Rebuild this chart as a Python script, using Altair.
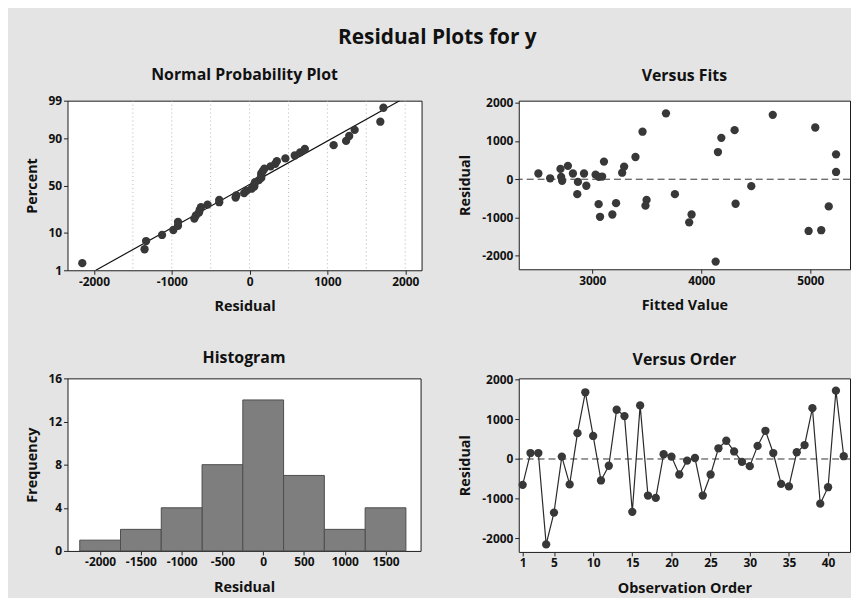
import altair as alt
import pandas as pd
import statistics

FONT = "Open Sans"

# ---- data ----
order = list(range(1, 43))
residual = [-650, 150, 150, -2150, -1350, 60, -640, 650, 1680, 580,
            -540, -170, 1240, 1080, -1330, 1350, -920, -980, 120, 60,
            -390, -40, 25, -920, -390, 270, 460, 190, -70, -180,
            330, 710, 150, -625, -690, 170, 350, 1280, -1125, -710,
            1720, 70]
fitted = [3058, 2505, 2924, 4132, 4985, 2714, 4315, 5237, 4656, 3396,
          3498, 2945, 3461, 4184, 5101, 5046, 3184, 3071, 3030, 3060,
          2862, 2723, 2613, 3911, 3758, 2708, 3107, 5237, 2868, 4459,
          3292, 4153, 2822, 3218, 3488, 3274, 2776, 4306, 3889, 5170,
          3676, 3090]
pct_ticks = [1, 10, 50, 90, 99]
npp_grid_x = [-1500, -1000, -500, 0, 500, 1000, 1500, 2000]
hist_ticks = [-2000, -1500, -1000, -500, 0, 500, 1000, 1500]
order_ticks = [1, 5, 10, 15, 20, 25, 30, 35, 40]

nd = statistics.NormalDist()
n = len(residual)
srt = sorted(residual)
zs = [nd.inv_cdf((i - 0.3) / (n + 0.4)) for i in range(1, n + 1)]
zlo, zhi = nd.inv_cdf(0.01), nd.inv_cdf(0.99)
mu = statistics.mean(residual)
sd = statistics.stdev(residual)

df = pd.DataFrame({"order": order, "res": residual, "fit": fitted})
npp_df = pd.DataFrame({"res": srt, "z": zs})
line_df = pd.DataFrame({"res": [mu + zlo * sd, mu + zhi * sd], "z": [zlo, zhi]})
grid_df = pd.DataFrame({"gx": npp_grid_x})
zero_df = pd.DataFrame({"y0": [0]})
zt = [nd.inv_cdf(p / 100) for p in pct_ticks]

PT = "#383838"
PT_SIZE = 70
W1, W2 = 357, 334
H1, H2 = 171, 175

def stitle(t, off):
    return alt.TitleParams(t, fontSize=16, font=FONT, fontWeight="bold",
                           color="#111", offset=off, anchor="middle")

# ---- Normal probability plot ----
xs1 = alt.Scale(domain=[-2340, 2210], nice=False, zero=False)
ys1 = alt.Scale(domain=[zlo, zhi], nice=False, zero=False)
xa1 = alt.Axis(title="Residual", values=[-2000, -1000, 0, 1000, 2000],
               labelExpr="'' + datum.value")
lab_expr = "datum.value < -2 ? '1' : datum.value < -1 ? '10' : datum.value < 1 ? '50' : datum.value < 2 ? '90' : '99'"
ya1 = alt.Axis(title="Percent", values=zt, labelExpr=lab_expr)

g1 = alt.Chart(grid_df).mark_rule(color="#b5b5b5", strokeDash=[1, 3], strokeWidth=1).encode(
    x=alt.X("gx:Q", scale=xs1, axis=xa1))
l1 = alt.Chart(line_df).mark_line(color="#111", strokeWidth=1.2, clip=True).encode(
    x=alt.X("res:Q", scale=xs1, axis=xa1), y=alt.Y("z:Q", scale=ys1, axis=ya1))
p1 = alt.Chart(npp_df).mark_circle(color=PT, size=PT_SIZE, opacity=1).encode(
    x=alt.X("res:Q", scale=xs1, axis=xa1), y=alt.Y("z:Q", scale=ys1, axis=ya1))
npp = alt.layer(g1, l1, p1).properties(width=W1, height=H1,
                                       title=stitle("Normal Probability Plot", 12))

# ---- Versus fits ----
xs2 = alt.Scale(domain=[2325, 5365], nice=False, zero=False)
ys2 = alt.Scale(domain=[-2350, 2050], nice=False, zero=False)
xa2 = alt.Axis(title="Fitted Value", values=[3000, 4000, 5000], labelExpr="'' + datum.value")
ya2 = alt.Axis(title="Residual", values=[-2000, -1000, 0, 1000, 2000], labelExpr="'' + datum.value")
z2 = alt.Chart(zero_df).mark_rule(color="#333", strokeDash=[7, 4], strokeWidth=1).encode(
    y=alt.Y("y0:Q", scale=ys2, axis=ya2))
p2 = alt.Chart(df).mark_circle(color=PT, size=PT_SIZE, opacity=1).encode(
    x=alt.X("fit:Q", scale=xs2, axis=xa2), y=alt.Y("res:Q", scale=ys2, axis=ya2))
vfits = alt.layer(z2, p2).properties(width=W2, height=H1 - 1,
                                     title=stitle("Versus Fits", 13))

# ---- Histogram ----
xs3 = alt.Scale(domain=[-2400, 1930], nice=False, zero=False)
ys3 = alt.Scale(domain=[0, 16], nice=False)
xa3 = alt.Axis(title="Residual", values=hist_ticks, labelExpr="'' + datum.value")
ya3 = alt.Axis(title="Frequency", values=[0, 4, 8, 12, 16])
hist = alt.Chart(df).transform_bin(
    ["b0", "b1"], "res", bin=alt.Bin(extent=[-2250, 1750], step=500, nice=False)
).transform_aggregate(cnt="count()", groupby=["b0", "b1"]).mark_bar(
    fill="#7e7e7e", stroke="#4d4d4d", strokeWidth=1
).encode(
    x=alt.X("b0:Q", scale=xs3, axis=xa3), x2="b1:Q",
    y=alt.Y("cnt:Q", scale=ys3, axis=ya3), y2=alt.datum(0)
).properties(width=W1 - 1, height=H2 - 1, title=stitle("Histogram", 6))

# ---- Versus order ----
xs4 = alt.Scale(domain=[0.5, 42.8], nice=False, zero=False)
ys4 = alt.Scale(domain=[-2340, 2030], nice=False, zero=False)
xa4 = alt.Axis(title="Observation Order", values=order_ticks)
ya4 = alt.Axis(title="Residual", values=[-2000, -1000, 0, 1000, 2000], labelExpr="'' + datum.value")
z4 = alt.Chart(zero_df).mark_rule(color="#333", strokeDash=[7, 4], strokeWidth=1).encode(
    y=alt.Y("y0:Q", scale=ys4, axis=ya4))
ln4 = alt.Chart(df).mark_line(color="#2a2a2a", strokeWidth=1.2).encode(
    x=alt.X("order:Q", scale=xs4, axis=xa4), y=alt.Y("res:Q", scale=ys4, axis=ya4))
p4 = alt.Chart(df).mark_circle(color=PT, size=PT_SIZE, opacity=1).encode(
    x=alt.X("order:Q", scale=xs4, axis=xa4), y=alt.Y("res:Q", scale=ys4, axis=ya4))
vorder = alt.layer(z4, ln4, p4).properties(width=W2, height=H2,
                                           title=stitle("Versus Order", 6))

row1 = alt.hconcat(npp, vfits, spacing=35)
row2 = alt.hconcat(hist, vorder, spacing=36)

chart = alt.vconcat(row1, row2, spacing=36).properties(
    title=alt.TitleParams("Residual Plots for y", fontSize=21, font=FONT,
                          fontWeight="bold", color="#111", anchor="middle", offset=19),
    padding={"top": 16, "left": 15, "right": 0, "bottom": 0},
    background="#e4e4e4",
).configure_view(
    fill="white", stroke="#1a1a1a", strokeWidth=1
).configure_axis(
    labelFont=FONT, titleFont=FONT, labelFontSize=12, labelFontWeight="bold",
    titleFontSize=14.5, titleFontWeight="bold", grid=False, domain=False,
    tickColor="#222", tickSize=4, labelColor="#111", titleColor="#111",
    labelPadding=2, titlePadding=13
).configure_axisY(titlePadding=9)

chart.save("out.html", embed_options={"renderer": "svg", "actions": False})
